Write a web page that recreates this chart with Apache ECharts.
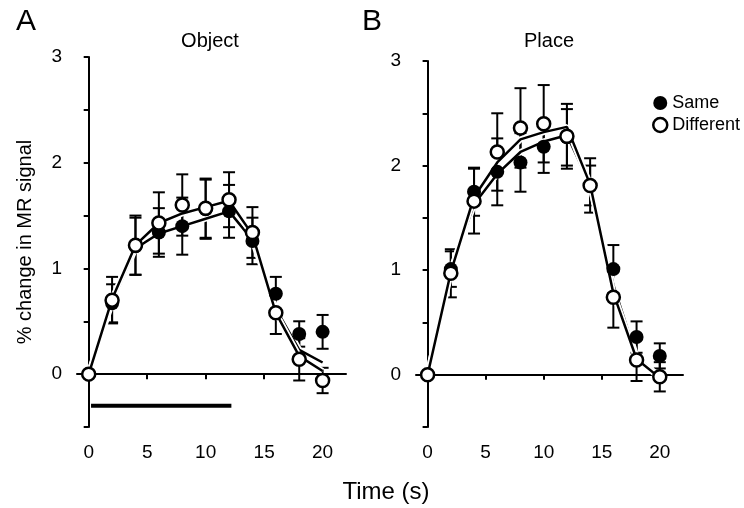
<!DOCTYPE html>
<html><head><meta charset="utf-8">
<script src="https://cdn.jsdelivr.net/npm/echarts@6/dist/echarts.min.js"></script>
<style>html,body{margin:0;padding:0;background:#fff}#c{width:744px;height:508px}</style>
</head><body><div id="c"></div>
<script>
// ---- data ----
const times = [0, 2, 4, 6, 8, 10, 12, 14, 16, 18, 20];
const xTicks = [0, 5, 10, 15, 20];
const yTicks = [0, 1, 2, 3];

// Panel A: Object
const sameA    = [0, 0.67, 1.21, 1.34, 1.40, 1.56, 1.54, 1.26, 0.76, 0.38, 0.40];
const sameErrA = [0, 0.18, 0.27, 0.23, 0.27, 0.28, 0.25, 0.22, 0.16, 0.12, 0.16];
const diffA    = [0, 0.70, 1.22, 1.43, 1.60, 1.57, 1.65, 1.34, 0.58, 0.14, -0.06];
const diffErrA = [0, 0.22, 0.28, 0.29, 0.29, 0.28, 0.26, 0.24, 0.20, 0.20, 0.12];
const fitSameA = [0, 0.68, 1.19, 1.33, 1.40, 1.47, 1.54, 1.27, 0.62, 0.23, 0.11];
const fitDiffA = [0, 0.71, 1.22, 1.43, 1.52, 1.58, 1.64, 1.32, 0.58, 0.17, 0.03];
const stimulusBar = [0.2, 12.2];   // stimulus period (s)
const stimulusLevel = -0.3;

// Panel B: Place
const sameB    = [0, 1.01, 1.75, 1.94, 2.03, 2.18, 2.27, 1.81, 1.01, 0.36, 0.18];
const sameErrB = [0, 0.17, 0.23, 0.32, 0.28, 0.25, 0.27, 0.19, 0.23, 0.15, 0.12];
const diffB    = [0, 0.97, 1.66, 2.13, 2.36, 2.40, 2.28, 1.81, 0.74, 0.14, -0.02];
const diffErrB = [0, 0.23, 0.31, 0.37, 0.38, 0.37, 0.31, 0.26, 0.29, 0.20, 0.14];
const fitSameB = [0, 1.00, 1.63, 1.92, 2.13, 2.23, 2.29, 1.82, 0.86, 0.17, -0.02];
const fitDiffB = [0, 0.98, 1.70, 2.03, 2.25, 2.32, 2.37, 1.82, 0.78, 0.15, -0.03];

const panelTitles = ['Object', 'Place'];
const panelLetters = ['A', 'B'];
const yName = '% change in MR signal';
const xName = 'Time (s)';
const legendNames = ['Same', 'Different'];

// ---- chart ----
const FONT = '"Liberation Sans", Arial, Helvetica, sans-serif';
const chart = echarts.init(document.getElementById('c'), null, {renderer: 'canvas'});

function pairs(v) { return times.map((t, i) => [t, v[i]]); }
function errData(v, e) { return times.map((t, i) => [t, v[i] - e[i], v[i] + e[i]]); }

function errRender(params, api) {
  const x = api.value(0), lo = api.value(1), hi = api.value(2);
  if (hi - lo <= 1e-9) return null;
  const p1 = api.coord([x, lo]), p2 = api.coord([x, hi]);
  const w = 6, st = {stroke: '#000', lineWidth: 2};
  return {type: 'group', children: [
    {type: 'line', shape: {x1: p1[0], y1: p1[1], x2: p2[0], y2: p2[1]}, style: st},
    {type: 'line', shape: {x1: p1[0] - w, y1: p1[1], x2: p1[0] + w, y2: p1[1]}, style: st},
    {type: 'line', shape: {x1: p2[0] - w, y1: p2[1], x2: p2[0] + w, y2: p2[1]}, style: st}
  ]};
}

const axisLine = {show: true, lineStyle: {color: '#000', width: 2}};
function xAx(gi) {
  return {
    gridIndex: gi, type: 'value', min: -1, max: 22,
    axisLine: axisLine,
    axisTick: {show: true, length: 5, lineStyle: {color: '#000', width: 2}, customValues: xTicks},
    axisLabel: {show: true, color: '#000', fontSize: 19, fontFamily: FONT, margin: 16, customValues: xTicks},
    splitLine: {show: false}
  };
}
function yAx(gi, withName) {
  return {
    gridIndex: gi, type: 'value', min: -0.5, max: 3, interval: 0.5,
    axisLine: axisLine,
    axisTick: {show: true, length: 5, lineStyle: {color: '#000', width: 2}},
    axisLabel: {color: '#000', fontSize: 19, fontFamily: FONT, margin: 15,
      formatter: v => (yTicks.indexOf(v) >= 0 ? String(v) : '')},
    splitLine: {show: false},
    name: withName ? yName : '', nameLocation: 'middle', nameGap: 42, nameRotate: 90,
    nameTextStyle: {color: '#000', fontSize: 20, fontFamily: FONT}
  };
}

function panelSeries(gi, same, sameErr, diff, diffErr, fitSame, fitDiff) {
  const s = [];
  s.push({type: 'custom', xAxisIndex: gi, yAxisIndex: gi, renderItem: errRender,
    data: errData(same, sameErr), encode: {x: 0, y: [1, 2]}, z: 2, silent: true});
  s.push({type: 'custom', xAxisIndex: gi, yAxisIndex: gi, renderItem: errRender,
    data: errData(diff, diffErr), encode: {x: 0, y: [1, 2]}, z: 2, silent: true});
  [fitSame, fitDiff].forEach((f, k) => {
    s.push({type: 'line', xAxisIndex: gi, yAxisIndex: gi, data: pairs(f), showSymbol: false,
      lineStyle: {color: '#fff', width: 6}, z: 3 + k * 2, silent: true});
    s.push({type: 'line', xAxisIndex: gi, yAxisIndex: gi, data: pairs(f), showSymbol: false,
      lineStyle: {color: '#000', width: 2.5}, z: 4 + k * 2, silent: true});
  });
  s.push({type: 'scatter', name: 'Same', xAxisIndex: gi, yAxisIndex: gi, data: pairs(same),
    symbol: 'circle', symbolSize: 14, itemStyle: {color: '#000', borderColor: '#000', borderWidth: 0, opacity: 1}, z: 8});
  s.push({type: 'scatter', name: 'Different', xAxisIndex: gi, yAxisIndex: gi, data: pairs(diff),
    symbol: 'circle', symbolSize: 13, itemStyle: {color: '#fff', borderColor: '#000', borderWidth: 2.5, opacity: 1}, z: 9});
  return s;
}

const series = [].concat(
  panelSeries(0, sameA, sameErrA, diffA, diffErrA, fitSameA, fitDiffA),
  panelSeries(1, sameB, sameErrB, diffB, diffErrB, fitSameB, fitDiffB)
);
series.push({type: 'line', xAxisIndex: 0, yAxisIndex: 0,
  data: stimulusBar.map(t => [t, stimulusLevel]), showSymbol: false,
  lineStyle: {color: '#000', width: 4, cap: 'butt'}, z: 3, silent: true});

const txt = (x, y, t, size, align) => ({type: 'text', x: x, y: y,
  style: {text: t, fill: '#000', font: size + 'px ' + FONT, textAlign: align || 'center', textVerticalAlign: 'middle'}});

chart.setOption({
  animation: false,
  backgroundColor: '#fff',
  grid: [
    {left: 77, top: 57, width: 269, height: 370},
    {left: 416, top: 61, width: 267, height: 366}
  ],
  xAxis: [xAx(0), xAx(1)],
  yAxis: [yAx(0, true), yAx(1, false)],
  legend: {
    data: [
      {name: legendNames[0], itemStyle: {color: '#000', borderWidth: 0}},
      {name: legendNames[1], itemStyle: {color: '#fff', borderColor: '#000', borderWidth: 2.5}}
    ],
    orient: 'vertical', left: 647, top: 89, itemGap: 4,
    itemWidth: 14, itemHeight: 14, icon: 'circle',
    textStyle: {color: '#000', fontSize: 18, fontFamily: FONT},
    selectedMode: false
  },
  graphic: [
    txt(26, 22, panelLetters[0], 30),
    txt(372, 22, panelLetters[1], 30),
    txt(210, 41, panelTitles[0], 20),
    txt(549, 41, panelTitles[1], 20),
    txt(386, 492, xName, 24)
  ],
  series: series
});
</script></body></html>
